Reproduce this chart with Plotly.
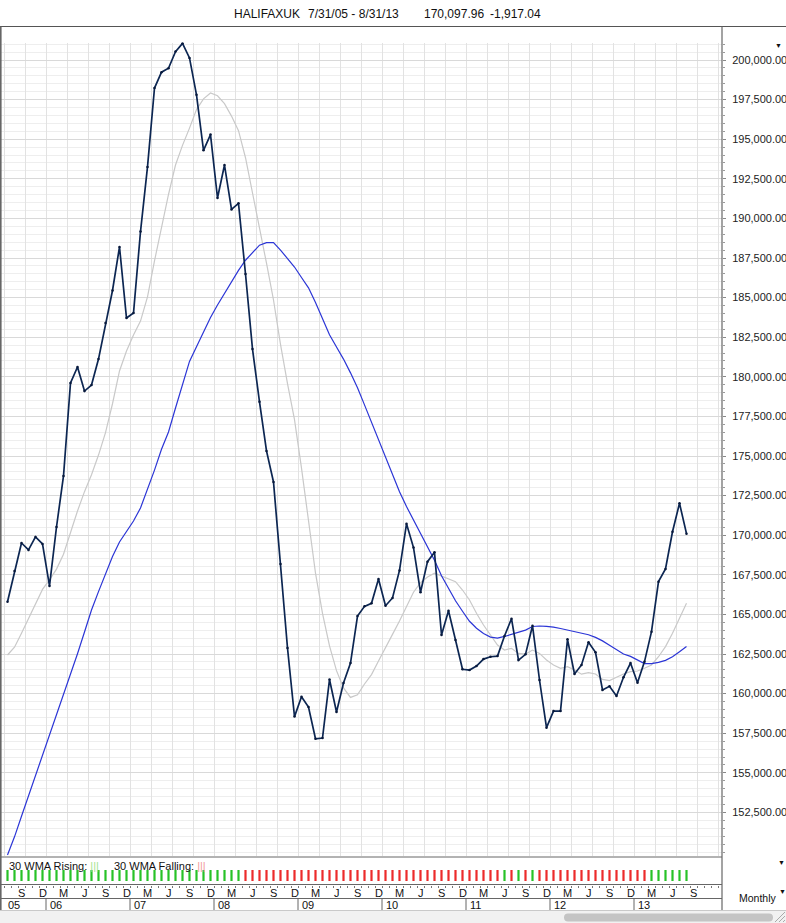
import plotly.graph_objects as go
import pandas as pd

# ---------------- data (monthly, 7/31/05 .. 8/31/13) ----------------
months = pd.date_range("2005-07-31", "2013-08-31", freq="ME")

close = [165800, 167740, 169510, 169070, 169890, 169450, 166800, 170520, 173740, 179610,
         180620, 179100, 179480, 181120, 183400, 185450, 188200, 183710, 184030, 189170,
         193250, 198230, 199230, 199480, 200530, 201050, 200130, 197800, 194300, 195290,
         191290, 193370, 190570, 190950, 186490, 181750, 178420, 175320, 173360, 168180,
         162880, 158550, 159800, 159150, 157150, 157200, 160890, 158840, 160670, 161930,
         164900, 165510, 165700, 167240, 165550, 166040, 167780, 170720, 169220, 166400,
         168330, 168920, 163700, 165230, 163380, 161540, 161490, 161740, 162180, 162330,
         162370, 163640, 164730, 162120, 162480, 164290, 160860, 157850, 158900, 158900,
         163430, 161240, 161810, 163240, 162610, 160230, 160460, 159850, 161030, 161930,
         160690, 162020, 163910, 167070, 167870, 170220, 172015, 170098]

wma_short = [162440, 162930, 163810, 164720, 165660, 166580, 167180, 167860, 168800, 170240,
             171530, 172750, 173820, 175060, 176480, 178300, 180370, 181630, 182640, 183520,
             185050, 187320, 189490, 191510, 193370, 194610, 195700, 196870, 197550, 197920,
             197740, 197240, 196460, 195540, 193830, 191670, 189490, 187170, 184850, 182050,
             179570, 177300, 174240, 170740, 167610, 165070, 163020, 161450, 160360, 159760,
             159930, 160610, 161200, 162060, 162940, 163740, 164580, 165480, 166400, 167000,
             167360, 167600, 167420, 167280, 167070, 166540, 165910, 165070, 164330, 163700,
             163070, 162750, 162860, 162540, 162500, 162750, 162540, 162120, 161810, 161600,
             161700, 161490, 161230, 161330, 161240, 160900, 160820, 161030, 161240, 161390,
             161430, 161600, 161810, 162330, 162970, 163810, 164760, 165700]

wma30 = [149810, 150960, 152260, 153540, 154810, 156090, 157360, 158620, 159860, 161210,
         162520, 163890, 165280, 166440, 167550, 168660, 169570, 170200, 170900, 171720,
         172860, 174110, 175430, 176520, 178030, 179550, 180970, 181900, 182830, 183750,
         184530, 185270, 186020, 186720, 187360, 187840, 188310, 188470, 188470, 188000,
         187500, 186930, 186270, 185620, 184690, 183670, 182650, 181880, 181120, 180250,
         179310, 178230, 177140, 176050, 174890, 173760, 172750, 171810, 170970, 170120,
         169280, 168420, 167440, 166600, 165860, 165200, 164570, 164130, 163790, 163570,
         163510, 163610, 163740, 163860, 164010, 164240, 164270, 164240, 164200, 164110,
         164020, 163920, 163820, 163720, 163550, 163330, 163050, 162770, 162500, 162350,
         162140, 161900, 161890, 161970, 162100, 162330, 162650, 162970]

# 1 = 30 WMA rising (green), 0 = falling (red)  -- 98 months
wma_rising = [1] * 34 + [0] * 37 + [1, 0, 1, 0, 1] + [0] * 16 + [1] * 6

y_ticks = [152500 + 2500 * i for i in range(20)]
month_letters = {9: "S", 12: "D", 3: "M", 6: "J"}
title_parts = ["HALIFAXUK", "7/31/05 - 8/31/13", "170,097.96", "-1,917.04"]

# ---------------- geometry helpers ----------------
W, H = 786, 923
def px(x):
    return x / W
def py(y):
    return 1 - y / H

k = list(range(len(months)))
X_LEFT, X_RIGHT = 1, 722
def kx(x_pix):  # pixel -> month index (only for axis range)
    return (x_pix - 7.5) / 7.0

FONT = "Liberation Sans, Arial, sans-serif"

fig = go.Figure()

fig.add_trace(go.Scatter(x=k, y=wma_short, mode="lines",
                         line=dict(color="#c9c9c9", width=1.2), hoverinfo="skip"))
fig.add_trace(go.Scatter(x=k, y=wma30, mode="lines",
                         line=dict(color="#2b35d6", width=1.2), hoverinfo="skip"))
fig.add_trace(go.Scatter(x=k, y=close, mode="lines+markers",
                         line=dict(color="#0c2652", width=1.7),
                         marker=dict(size=2.5, color="#08183a"), hoverinfo="skip"))

ind_colors = ["#27c227" if r else "#ec2b2b" for r in wma_rising]
fig.add_trace(go.Scatter(x=k, y=[1.0] * len(k), mode="markers", xaxis="x2", yaxis="y2",
                         marker=dict(symbol="line-ns", size=8,
                                     line=dict(color=ind_colors, width=2.2)),
                         hoverinfo="skip"))

xr = [kx(X_LEFT), kx(X_RIGHT)]
fig.update_layout(
    width=W, height=H, margin=dict(l=0, r=0, t=0, b=0),
    paper_bgcolor="white", plot_bgcolor="white", showlegend=False,
    font=dict(family=FONT, size=11, color="#111"),
    xaxis=dict(domain=[px(X_LEFT), px(X_RIGHT)], range=xr, anchor="y",
               showgrid=True, gridcolor="#e2e2e2", gridwidth=1,
               tickmode="linear", tick0=-0.5, dtick=3,
               showticklabels=False, ticks="", zeroline=False, showline=False),
    yaxis=dict(domain=[py(856), py(42.5)], range=[149750, 201105], anchor="x",
               side="right", tickmode="array", tickvals=y_ticks,
               tickformat=",.2f", showgrid=True, gridcolor="#d9d9d9", gridwidth=1,
               ticks="outside", ticklen=3, tickcolor="#888",
               ticklabelstandoff=4,
               tickfont=dict(family=FONT, size=11, color="#222"),
               minor=dict(tickmode="linear", tick0=0, dtick=500, showgrid=True,
                          gridcolor="#eeeeee", ticks="outside", ticklen=2,
                          tickcolor="#999"),
               zeroline=False, showline=False),
    xaxis2=dict(domain=[px(X_LEFT), px(X_RIGHT)], range=xr, anchor="y2",
                showgrid=False, showticklabels=False, zeroline=False, showline=False,
                tickmode="linear", tick0=-0.5, dtick=1, ticks="outside",
                ticklen=2, tickcolor="#777"),
    yaxis2=dict(domain=[py(884.5), py(857.5)], range=[0, 3], visible=False),
)

shapes = []
def line(x0, y0, x1, y1, color="#666", width=1):
    shapes.append(dict(type="line", xref="paper", yref="paper",
                       x0=px(x0), y0=py(y0), x1=px(x1), y1=py(y1),
                       line=dict(color=color, width=width), layer="above"))

# frame lines
line(0, 26.5, W, 26.5, "#555", 1)
line(0.8, 26.5, 0.8, 911, "#666", 1.6)
line(722, 26.5, 722, 911, "#666", 1.2)
line(0, 857, 722, 857, "#666", 1)
line(0, 884.5, 722, 884.5, "#666", 1)
line(0, 898.5, 722, 898.5, "#666", 1)
# year separators
for i, d in enumerate(months):
    if d.month == 1:
        line(7.5 + 7 * (i - 0.5), 898.5, 7.5 + 7 * (i - 0.5), 911, "#666", 1)

# scroll area
shapes.append(dict(type="rect", xref="paper", yref="paper", x0=0, x1=1,
                   y0=py(923), y1=py(910.5), fillcolor="#f1f1f1",
                   line=dict(width=0), layer="above"))
line(0, 910.5, W, 910.5, "#c9c9c9", 1)
# rounded scroll thumb
x0, x1, y0, y1, r = 564, 773, 913.5, 921.5, 4
path = (f"M {px(x0 + r)} {py(y0)} L {px(x1 - r)} {py(y0)} "
        f"Q {px(x1)} {py(y0)} {px(x1)} {py((y0 + y1) / 2)} "
        f"Q {px(x1)} {py(y1)} {px(x1 - r)} {py(y1)} "
        f"L {px(x0 + r)} {py(y1)} "
        f"Q {px(x0)} {py(y1)} {px(x0)} {py((y0 + y1) / 2)} "
        f"Q {px(x0)} {py(y0)} {px(x0 + r)} {py(y0)} Z")
shapes.append(dict(type="path", xref="paper", yref="paper", path=path,
                   fillcolor="#c4c4c4", line=dict(width=0), layer="above"))
# resize grip
for off in (3, 7, 11):
    line(786 - off, 922, 785, 922 - off + 1, "#aaa", 1)

fig.update_layout(shapes=shapes)

ann = []
def text(x, y, s, size=11, anchor="left", color="#111", xref="paper"):
    ann.append(dict(x=(px(x) if xref == "paper" else x), y=py(y), xref=xref, yref="paper",
                    text=s, showarrow=False, xanchor=anchor, yanchor="middle",
                    font=dict(family=FONT, size=size, color=color)))

# header title
for s, xs in zip(title_parts, [231.5, 306, 421.5, 488]):
    text(xs, 14, s, size=12)

# small triangles
text(778, 46, "▼", size=7, anchor="center")
text(781.5, 862, "▼", size=7, anchor="center")
text(782, 891.5, "▼", size=7, anchor="center")
text(737, 898, "Monthly", size=10.5)

# indicator legend
text(7, 865.5, "30 WMA Rising: <span style='color:#9fe38f'>|||</span>", size=11)
text(112, 865.5, "30 WMA Falling: <span style='color:#f29a9a'>|||</span>", size=11)

# month letters and year labels
for i, d in enumerate(months):
    if d.month in month_letters:
        text(i, 892.5, month_letters[d.month], size=11, anchor="center", xref="x")
    if d.month == 1 or i == 0:
        b = i - 0.5 if d.month == 1 else -0.5
        text(b + 0.3, 904.5, d.strftime("%y"), size=11, anchor="left", xref="x")
# extra S for Sep 2013 (axis extends one month past data)
text(len(months), 892.5, "S", size=11, anchor="center", xref="x")

fig.update_layout(annotations=ann)
fig.write_html("out.html", config={"displayModeBar": False},
               post_script="document.body.style.margin='0';"
                           "document.body.style.overflow='hidden';")
